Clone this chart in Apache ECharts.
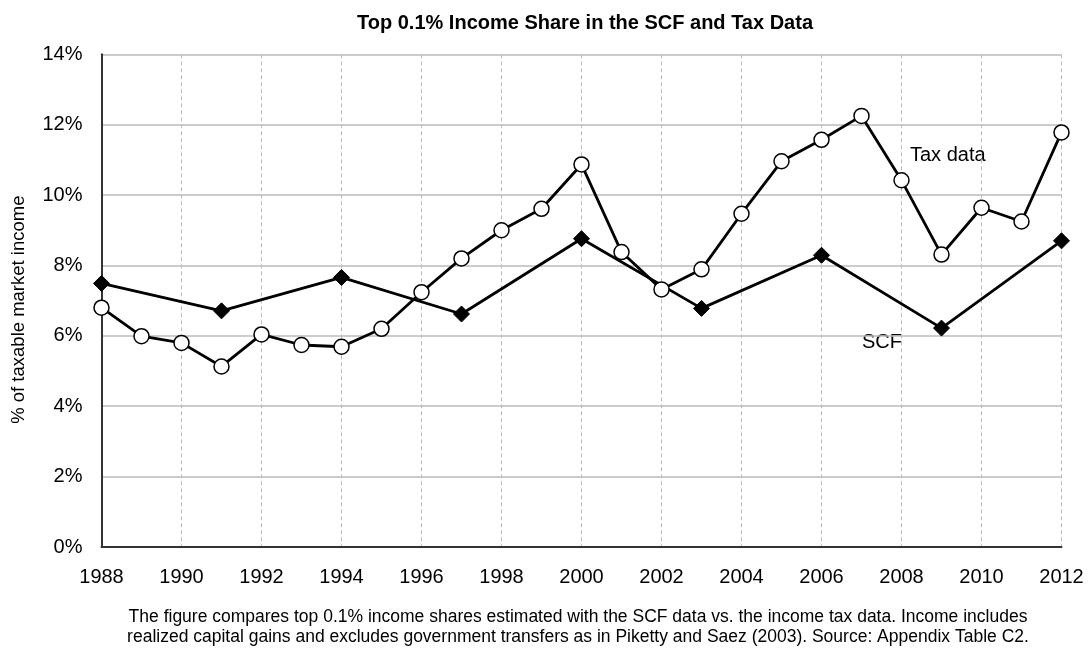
<!DOCTYPE html>
<html>
<head>
<meta charset="utf-8">
<script src="https://cdn.jsdelivr.net/npm/echarts@6/dist/echarts.min.js"></script>
<style>
html,body{margin:0;padding:0;background:#fff;}
#chart{width:1090px;height:651px;}
</style>
</head>
<body>
<div id="chart"></div>
<script>
var taxYears = [1988,1989,1990,1991,1992,1993,1994,1995,1996,1997,1998,1999,2000,2001,2002,2003,2004,2005,2006,2007,2008,2009,2010,2011,2012];
var taxValues = [6.80,5.99,5.80,5.13,6.04,5.74,5.69,6.20,7.24,8.20,9.00,9.61,10.87,8.38,7.32,7.89,9.47,10.96,11.57,12.25,10.42,8.31,9.64,9.25,11.78];
var scfYears = [1988,1991,1994,1997,2000,2003,2006,2009,2012];
var scfValues = [7.49,6.71,7.66,6.62,8.76,6.78,8.29,6.22,8.70];

function pairs(xs, ys){ return xs.map(function(x,i){ return [x, ys[i]]; }); }

var FONT = 'Liberation Sans, Arial, sans-serif';
var chart = echarts.init(document.getElementById('chart'));
chart.setOption({
  animation: false,
  backgroundColor: '#fff',
  title: {
    text: 'Top 0.1% Income Share in the SCF and Tax Data',
    left: 580, top: 8, textAlign: 'center',
    textStyle: {fontFamily: FONT, fontSize: 20, fontWeight: 'bold', color: '#000'}
  },
  grid: {left: 101.5, right: 28.5, top: 54.3, bottom: 104, containLabel: false},
  xAxis: {
    type: 'value', min: 1988, max: 2012, interval: 2,
    axisLine: {show: true, lineStyle: {color: '#333', width: 2}},
    axisTick: {show: false},
    axisLabel: {fontFamily: FONT, fontSize: 20, color: '#000', margin: 20, formatter: function(v){return String(v);}},
    splitLine: {show: true, lineStyle: {color: '#bbb', type: [4,3], width: 1}}
  },
  yAxis: {
    type: 'value', min: 0, max: 14, interval: 2,
    name: '% of taxable market income', nameLocation: 'middle', nameGap: 73,
    nameTextStyle: {fontFamily: FONT, fontSize: 18.5, color: '#000', padding: [0, 18, 0, 0]},
    axisLine: {show: true, lineStyle: {color: '#333', width: 2}},
    axisTick: {show: false},
    axisLabel: {fontFamily: FONT, fontSize: 20, color: '#000', margin: 19, formatter: '{value}%'},
    splitLine: {show: true, lineStyle: {color: '#bbb', width: 1.5}}
  },
  series: [
    {
      name: 'SCF', type: 'line', data: pairs(scfYears, scfValues),
      symbol: 'diamond', symbolSize: 16,
      lineStyle: {color: '#000', width: 2.8},
      itemStyle: {color: '#000', borderColor: '#000'},
      z: 2
    },
    {
      name: 'Tax data', type: 'line', data: pairs(taxYears, taxValues),
      symbol: 'circle', symbolSize: 15, showAllSymbol: true,
      lineStyle: {color: '#000', width: 2.8},
      itemStyle: {color: '#fff', borderColor: '#000', borderWidth: 1.5},
      z: 3
    }
  ],
  graphic: [
    {type: 'text', left: 910, top: 145, style: {text: 'Tax data', font: '20px ' + FONT, fill: '#000'}},
    {type: 'text', left: 862, top: 332, style: {text: 'SCF', font: '20px ' + FONT, fill: '#000'}},
    {type: 'text', x: 578, y: 607, style: {
      text: 'The figure compares top 0.1% income shares estimated with the SCF data vs. the income tax data. Income includes\nrealized capital gains and excludes government transfers as in Piketty and Saez (2003). Source: Appendix Table C2.',
      font: '17.5px ' + FONT, fill: '#000', align: 'center', verticalAlign: 'top', lineHeight: 20}}
  ]
});
</script>
</body>
</html>
